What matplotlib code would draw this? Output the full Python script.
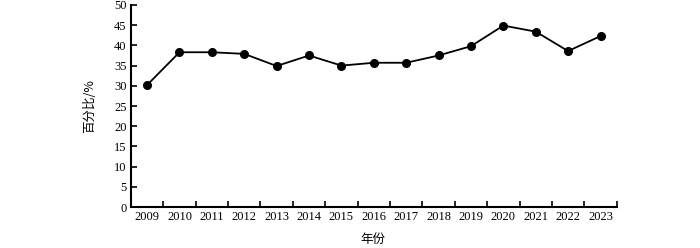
import numpy as np
import matplotlib.pyplot as plt

plt.rcParams['font.family'] = ['Liberation Serif', 'Noto Sans CJK SC']

# 数据
years = ['2009', '2010', '2011', '2012', '2013', '2014', '2015', '2016',
         '2017', '2018', '2019', '2020', '2021', '2022', '2023']
values = [30.2, 38.3, 38.3, 37.9, 34.9, 37.5, 35.0, 35.7,
          35.7, 37.5, 39.8, 44.9, 43.4, 38.6, 42.3]

fig = plt.figure(figsize=(7, 2.48), dpi=100)
ax = fig.add_axes([0.187, 0.165, 0.694, 0.815])

x = np.arange(len(years))
ax.plot(x, values, '-o', color='black', lw=1.3, markersize=5.5)

ax.set_xlim(-0.5, len(years) - 0.5)
ax.set_ylim(0, 50)
ax.set_yticks(range(0, 51, 5))
ax.set_xticks(np.arange(-0.5, len(years), 1), minor=False)
ax.set_xticklabels([])
ax.set_xticks(x, minor=True)
ax.set_xticklabels(years, minor=True)
ax.tick_params(axis='x', which='minor', length=0, labelsize=9, pad=3)
ax.tick_params(axis='x', which='major', direction='in', length=4, width=1.2)
ax.tick_params(axis='y', direction='in', length=4, width=1.2, labelsize=9, pad=3)

for s in ['top', 'right']:
    ax.spines[s].set_visible(False)
for s in ['left', 'bottom']:
    ax.spines[s].set_linewidth(1.5)

ax.set_ylabel('百分比/%', fontsize=9, family=['Noto Sans CJK SC', 'DejaVu Sans'], labelpad=13)
fig.text(0.533, 0.02, '年份', fontsize=9, family=['Noto Sans CJK SC', 'DejaVu Sans'], ha='center')

plt.savefig('out.png', dpi=100)
